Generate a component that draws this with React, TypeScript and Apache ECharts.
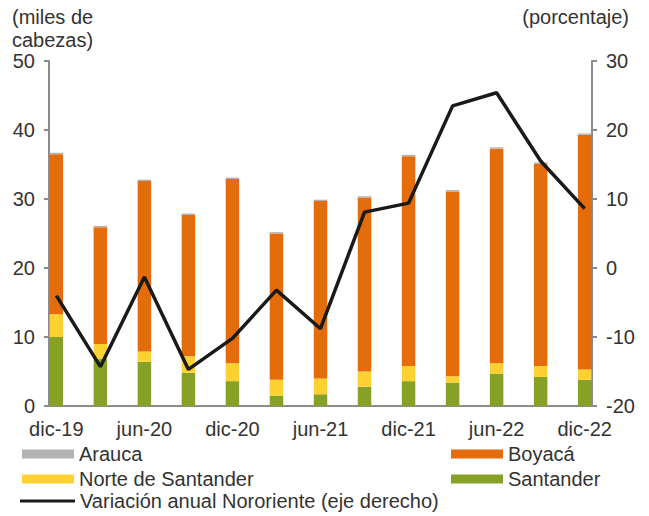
import React, { useEffect, useRef } from "react";
import * as echarts from "echarts";

const quarters = ["dic-19", "mar-20", "jun-20", "sep-20", "dic-20", "mar-21", "jun-21", "sep-21", "dic-21", "mar-22", "jun-22", "sep-22", "dic-22"];
const monthNames = ["ene", "feb", "mar", "abr", "may", "jun", "jul", "ago", "sep", "oct", "nov", "dic"];

const santander = [10.0, 6.8, 6.4, 4.8, 3.6, 1.5, 1.7, 2.8, 3.6, 3.4, 4.7, 4.2, 3.8];
const norteSantander = [3.3, 2.2, 1.5, 2.4, 2.6, 2.3, 2.3, 2.2, 2.2, 0.9, 1.5, 1.6, 1.5];
const boyaca = [23.2, 16.9, 24.7, 20.5, 26.7, 21.2, 25.7, 25.2, 30.4, 26.8, 31.1, 29.3, 34.0];
const arauca = [0.2, 0.2, 0.2, 0.2, 0.2, 0.2, 0.2, 0.2, 0.2, 0.2, 0.2, 0.2, 0.2];
const variacion = [-4.0, -14.3, -1.3, -14.7, -10.2, -3.2, -8.8, 8.1, 9.4, 23.5, 25.4, 15.5, 8.6];

const leftTicks = { min: 0, max: 50, interval: 10 };
const rightTicks = { min: -20, max: 30, interval: 10 };

// monthly date axis from dic-19 to dic-22
const monthAxis: string[] = [];
for (let i = 0; i <= 36; i++) {
  const m = (11 + i) % 12;
  const y = 19 + Math.floor((11 + i) / 12);
  monthAxis.push(`${monthNames[m]}-${y}`);
}
const toMonthly = (vals: number[]) => {
  const out: (number | null)[] = monthAxis.map(() => null);
  quarters.forEach((q, i) => {
    const idx = monthAxis.indexOf(q);
    if (idx >= 0) out[idx] = vals[i];
  });
  return out;
};

const FONT = "Liberation Sans, Arial, sans-serif";
const FS = 20;
const TXT = "#333333";
const AXIS = "#8c8c8c";

const COLORS = {
  arauca: "#b3b3b3",
  boyaca: "#e46c0a",
  norte: "#fed133",
  santander: "#86a126",
  line: "#1a1a1a",
};

export default function App() {
  const ref = useRef<HTMLDivElement>(null);
  useEffect(() => {
    if (!ref.current) return;
    const chart = echarts.init(ref.current, undefined, { renderer: "svg" });
    const legendBase = {
      orient: "horizontal" as const,
      padding: 0,
      itemWidth: 52,
      itemHeight: 9,
      icon: "rect",
      textStyle: { fontSize: FS, color: TXT, fontFamily: FONT },
      selectedMode: false,
    };
    const barSeries = (name: string, vals: number[], color: string) => ({
      name,
      type: "bar",
      stack: "total",
      data: toMonthly(vals),
      barWidth: 13.5,
      itemStyle: { color },
    });
    chart.setOption({
      animation: false,
      textStyle: { fontFamily: FONT },
      grid: { left: 49, right: 57, top: 61, bottom: 110 },
      legend: [
        { ...legendBase, left: 22, top: 444, data: ["Arauca"] },
        { ...legendBase, left: 22, top: 469, data: ["Norte de Santander"] },
        { ...legendBase, left: 20, top: 491, itemWidth: 55, itemHeight: 3, data: ["Variación anual Nororiente (eje derecho)"] },
        { ...legendBase, left: 451, top: 444, data: ["Boyacá"] },
        { ...legendBase, left: 451, top: 469, data: ["Santander"] },
      ],
      graphic: [
        {
          type: "text",
          left: 12,
          top: 5,
          style: { text: "(miles de\ncabezas)", fontSize: FS, lineHeight: 23, fill: TXT, fontFamily: FONT },
        },
        {
          type: "text",
          right: 20,
          top: 5,
          style: { text: "(porcentaje)", fontSize: FS, lineHeight: 23, fill: TXT, fontFamily: FONT },
        },
      ],
      xAxis: {
        type: "category",
        data: monthAxis,
        boundaryGap: true,
        axisLine: { lineStyle: { color: AXIS, width: 2 } },
        axisTick: { interval: 5, length: 5, lineStyle: { color: AXIS, width: 2 } },
        axisLabel: { interval: 5, margin: 13, fontSize: FS, color: TXT, fontFamily: FONT },
        splitLine: { show: false },
      },
      yAxis: [
        {
          type: "value",
          ...leftTicks,
          axisLine: { show: true, lineStyle: { color: AXIS, width: 2 } },
          axisTick: { show: true, length: 5, lineStyle: { color: AXIS, width: 2 } },
          axisLabel: { margin: 14, fontSize: FS, color: TXT, fontFamily: FONT },
          splitLine: { show: false },
        },
        {
          type: "value",
          position: "right",
          ...rightTicks,
          axisLine: { show: true, lineStyle: { color: AXIS, width: 2 } },
          axisTick: { show: true, length: 5, lineStyle: { color: AXIS, width: 2 } },
          axisLabel: { margin: 14, fontSize: FS, color: TXT, fontFamily: FONT },
          splitLine: { show: false },
        },
      ],
      series: [
        barSeries("Santander", santander, COLORS.santander),
        barSeries("Norte de Santander", norteSantander, COLORS.norte),
        barSeries("Boyacá", boyaca, COLORS.boyaca),
        barSeries("Arauca", arauca, COLORS.arauca),
        {
          name: "Variación anual Nororiente (eje derecho)",
          type: "line",
          yAxisIndex: 1,
          data: toMonthly(variacion),
          connectNulls: true,
          symbol: "none",
          z: 10,
          color: COLORS.line,
          itemStyle: { color: COLORS.line },
          lineStyle: { color: COLORS.line, width: 3.5 },
        },
      ],
    });
    return () => chart.dispose();
  }, []);
  return (
    <div
      ref={ref}
      style={{ position: "absolute", left: 0, top: 0, width: 649, height: 516, background: "#ffffff" }}
    />
  );
}
